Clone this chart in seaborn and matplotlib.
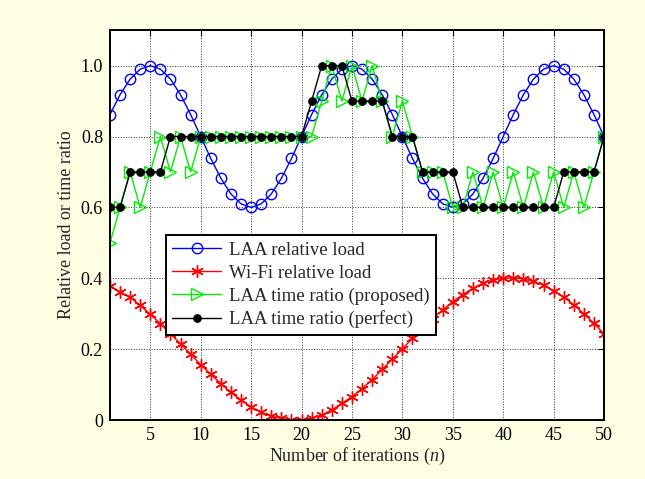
import matplotlib
matplotlib.use("Agg")
import matplotlib.pyplot as plt
import seaborn as sns
import pandas as pd

# ---------------------------------------------------------------------------
# DATA
# ---------------------------------------------------------------------------
iterations = list(range(1, 51))

laa_load_cycle = [0.862, 0.918, 0.962, 0.990, 1.000, 0.990, 0.962, 0.918, 0.862, 0.800,
                  0.738, 0.682, 0.638, 0.610, 0.600, 0.610, 0.638, 0.682, 0.738, 0.800]
laa_load = laa_load_cycle + laa_load_cycle + laa_load_cycle[:10]

wifi_load = [0.378, 0.362, 0.346, 0.324, 0.298, 0.272, 0.243, 0.215, 0.186, 0.156,
             0.129, 0.103, 0.078, 0.056, 0.037, 0.022, 0.011, 0.005, 0.001, 0.001,
             0.005, 0.014, 0.029, 0.047, 0.066, 0.089, 0.114, 0.143, 0.172, 0.201,
             0.231, 0.259, 0.286, 0.311, 0.334, 0.354, 0.372, 0.386, 0.395, 0.400,
             0.401, 0.398, 0.392, 0.380, 0.365, 0.347, 0.325, 0.300, 0.273, 0.243]

laa_ratio_proposed = [0.5, 0.6, 0.7, 0.6, 0.7, 0.8, 0.7, 0.8, 0.7, 0.8,
                      0.8, 0.8, 0.8, 0.8, 0.8, 0.8, 0.8, 0.8, 0.8, 0.8,
                      0.8, 0.9, 1.0, 0.9, 1.0, 0.9, 1.0, 0.9, 0.8, 0.9,
                      0.8, 0.7, 0.7, 0.7, 0.6, 0.6, 0.7, 0.6, 0.7, 0.6,
                      0.7, 0.6, 0.7, 0.6, 0.7, 0.6, 0.7, 0.6, 0.7, 0.8]

laa_ratio_perfect = [0.6, 0.6, 0.7, 0.7, 0.7, 0.7, 0.8, 0.8, 0.8, 0.8,
                     0.8, 0.8, 0.8, 0.8, 0.8, 0.8, 0.8, 0.8, 0.8, 0.8,
                     0.9, 1.0, 1.0, 1.0, 0.9, 0.9, 0.9, 0.9, 0.8, 0.8,
                     0.8, 0.7, 0.7, 0.7, 0.7, 0.6, 0.6, 0.6, 0.6, 0.6,
                     0.6, 0.6, 0.6, 0.6, 0.6, 0.7, 0.7, 0.7, 0.7, 0.8]

y_ticks = [0, 0.2, 0.4, 0.6, 0.8, 1.0]
y_tick_labels = ["0", "0.2", "0.4", "0.6", "0.8", "1.0"]
x_ticks = [5, 10, 15, 20, 25, 30, 35, 40, 45, 50]

df = pd.DataFrame({
    "n": iterations,
    "laa_load": laa_load,
    "wifi_load": wifi_load,
    "proposed": laa_ratio_proposed,
    "perfect": laa_ratio_perfect,
})

# ---------------------------------------------------------------------------
# STYLE
# ---------------------------------------------------------------------------
sns.set_style("white")
plt.rcParams["font.family"] = ["Liberation Serif", "DejaVu Serif"]
plt.rcParams["mathtext.fontset"] = "custom"
plt.rcParams["mathtext.it"] = "Liberation Serif:italic"
plt.rcParams["mathtext.rm"] = "Liberation Serif"

fig = plt.figure(figsize=(6.45, 4.79), dpi=100, facecolor="#FEFEE2")
ax = fig.add_axes([0.1705, 0.123, 0.766, 0.814])
ax.set_facecolor("white")

asterisk = (6, 2, 0)  # MATLAB-like '*'

sns.lineplot(data=df, x="n", y="laa_load", ax=ax, color="#0000FF", lw=1.0,
             marker="o", markersize=7.5, markerfacecolor="none",
             markeredgecolor="#0000FF", markeredgewidth=1.0,
             label="LAA relative load")
sns.lineplot(data=df, x="n", y="wifi_load", ax=ax, color="#FF0000", lw=1.0,
             marker=asterisk, markersize=9, markerfacecolor="#FF0000",
             markeredgecolor="#FF0000", markeredgewidth=1.0,
             label="Wi-Fi relative load")
sns.lineplot(data=df, x="n", y="proposed", ax=ax, color="#00EE00", lw=1.0,
             marker=">", markersize=8, markerfacecolor="none",
             markeredgecolor="#00EE00", markeredgewidth=1.0,
             label="LAA time ratio (proposed)")
sns.lineplot(data=df, x="n", y="perfect", ax=ax, color="black", lw=1.0,
             marker="o", markersize=5.5, markerfacecolor="black",
             markeredgecolor="black",
             label="LAA time ratio (perfect)")

ax.set_xlim(1, 50)
ax.set_ylim(0, 1.1)
ax.set_xticks(x_ticks)
ax.set_yticks(y_ticks)
ax.set_yticklabels(y_tick_labels)
ax.tick_params(direction="in", top=True, right=True, length=4, width=0.8,
               labelsize=13, colors="black", pad=5)
ax.grid(True, linestyle=":", color="black", linewidth=0.7, alpha=0.8)
for sp in ax.spines.values():
    sp.set_visible(True)
    sp.set_color("black")
    sp.set_linewidth(1.4)

ax.set_xlabel("Number of iterations ($n$)", fontsize=13, labelpad=1)
ax.set_ylabel("Relative load or time ratio", fontsize=13, labelpad=4)

leg = ax.legend(loc="upper left", bbox_to_anchor=(0.113, 0.474),
                borderaxespad=0, fontsize=13.5, frameon=True, fancybox=False,
                handlelength=2.6, handletextpad=0.4, labelspacing=0.3,
                borderpad=0.35)
leg.get_frame().set_edgecolor("black")
leg.get_frame().set_linewidth(1.4)
leg.get_frame().set_alpha(1.0)

fig.savefig("out.png", dpi=100, facecolor=fig.get_facecolor())
